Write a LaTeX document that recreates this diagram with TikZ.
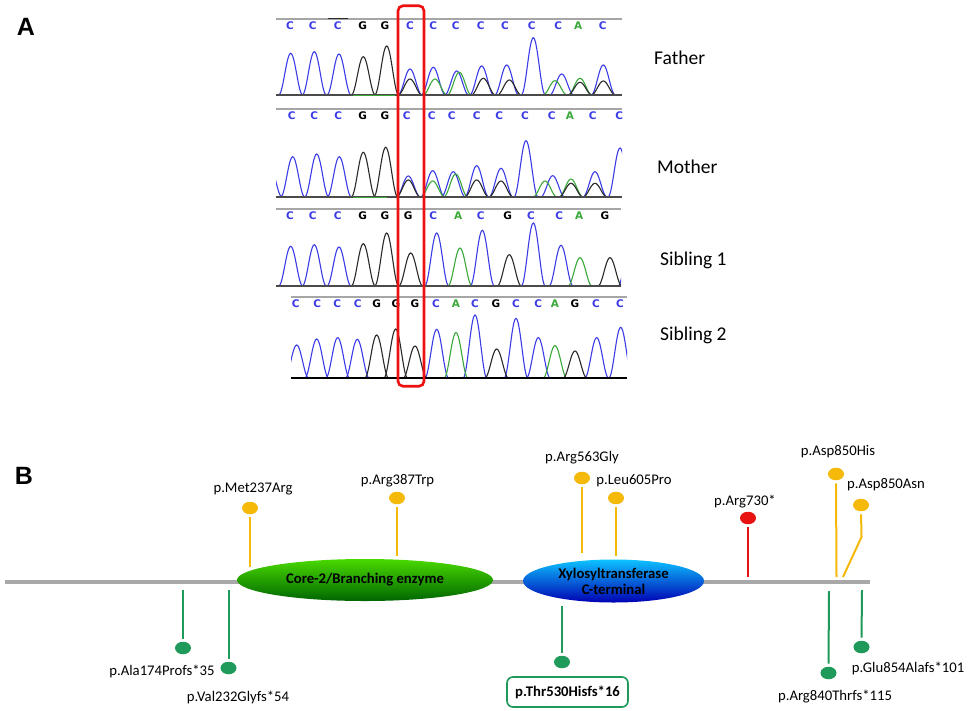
\documentclass[tikz,border=0pt]{standalone}
\usepackage{fontspec}
\setmainfont{Carlito}
\newfontfamily\arialb{Liberation Sans}
\newfontfamily\seqfont{DejaVu Sans}
\usetikzlibrary{shapes.geometric}
\definecolor{trblue}{HTML}{3C3CE6}
\definecolor{trblack}{HTML}{2A2A2A}
\definecolor{trgreen}{HTML}{3AA83A}
\definecolor{mutyel}{HTML}{F5B90A}
\definecolor{mutgrn}{HTML}{1F9A5A}
\definecolor{mutred}{HTML}{E81212}
\definecolor{bbgray}{HTML}{A8A8A8}
\definecolor{boxred}{HTML}{EE1111}
\newcommand\sqC{\textcolor{trblue}{C}}
\newcommand\sqG{\textcolor{black}{G}}
\newcommand\sqA{\textcolor{trgreen}{A}}
\newcommand\pk[4]{%
  \pgfmathsetmacro\pka{#2-12}\pgfmathsetmacro\pkb{#2+12}%
  \draw[color=#1, line width=1.1pt] plot[domain=\pka:\pkb, samples=25, smooth] (\x,{#4-#3*(0.5+0.5*cos(15*(\x-#2)))});}
\newcommand\seqrow[3]{%
  \foreach \lx/\lt [count=\i] in {#2} \node[seqlet] (#3\i) at (\lx,#1) {\csname sq\lt\endcsname};}
\begin{document}
\begin{tikzpicture}[x=1pt,y=-1pt,
  seqlet/.style={inner sep=0pt, font=\seqfont\bfseries\fontsize{10.5}{12}\selectfont},
  panel/.style={inner sep=0pt, font=\arialb\bfseries\fontsize{25}{28}\selectfont},
  rel/.style={inner sep=0pt, anchor=base west, font=\fontsize{19.5}{22}\selectfont},
  toplin/.style={draw=gray!70, line width=1.2pt},
  baselin/.style={draw=trblack!85, line width=1.5pt},
  dot/.style={ellipse, inner sep=0pt, minimum width=16pt, minimum height=12.5pt},
  ydot/.style={dot, fill=mutyel},
  gdot/.style={dot, fill=mutgrn},
  rdot/.style={dot, fill=mutred},
  yln/.style={draw=mutyel, line width=2pt, shorten <=3pt},
  gln/.style={draw=mutgrn, line width=2pt, shorten >=3pt},
  rln/.style={draw=mutred, line width=2.5pt, shorten <=3pt},
  mlab/.style={inner sep=0pt, font=\fontsize{14.7}{17}\selectfont},
  dom/.style={ellipse, inner sep=0pt, align=center, font=\bfseries\fontsize{14.7}{16}\selectfont}]
\useasboundingbox (0,0) rectangle (969,710);
\fill[white] (0,0) rectangle (969,710);
% ---------- Panel A ----------
\node[panel] (labA) at (26,27) {A};
% Track 1: Father
\begin{scope}
\clip (276,0) rectangle (622,100);
\foreach \c/\h in {290.7/41.7,314.3/43.3,339/41,410/26,433.3/27.7,456.7/24,481.7/29,506.7/30,533.3/57.3,561.7/21,603.3/30} \pk{trblue}{\c}{\h}{95};
\foreach \c/\h in {435/16,459.3/22.7,555/14.3,580/16.7} \pk{trgreen}{\c}{\h}{95};
\foreach \c/\h in {363.3/38.3,386.7/49,410/16,483.3/16.7,509.3/15,580/12.7,603.3/14} \pk{trblack}{\c}{\h}{95};
\end{scope}
\draw[toplin] (276,19) -- (622,19);
\draw[trblack, line width=1.2pt] (328,18.3) -- (348,18.3);
\draw[baselin] (276,95) -- (622,95);
\draw[trgreen, line width=1pt] (353,95) -- (395,95);
\seqrow{25.5}{290/C,312.7/C,337.7/C,362.7/G,385/G,410/C,433.3/C,455.7/C,480.7/C,505/C,531.7/C,558.3/C,578.3/A,602.7/C}{fa}
\node[rel] (father) at (654,64) {Father};
% Track 2: Mother
\begin{scope}
\clip (276,100) rectangle (622,200);
\foreach \c/\h in {270/30,292.7/40.3,316.7/43,339.3/40.3,408.3/21,432.7/26.3,453.3/25.3,476.7/31.3,501/28.7,526/56.3,552.7/21.3,595/25.3,620/49} \pk{trblue}{\c}{\h}{197};
\foreach \c/\h in {432.7/16,455.7/23,545/16,571/18} \pk{trgreen}{\c}{\h}{197};
\foreach \c/\h in {363.3/44.7,385.7/49.7,408.3/17,476.7/17,501/16,571/13.7,595/13.7} \pk{trblack}{\c}{\h}{197};
\seqrow{115.5}{291.7/C,314.3/C,338.3/C,362.7/G,385/G,406.7/C,431.7/C,451.7/C,476.7/C,499.3/C,525/C,551.7/C,570/A,592.7/C,619.3/C}{mo}
\end{scope}
\draw[toplin] (276,109) -- (622,109);
\draw[baselin] (276,197) -- (622,197);
\draw[trgreen, line width=1pt] (353,197) -- (387,197);
\node[rel] (mother) at (657,173) {Mother};
% Track 3: Sibling 1
\begin{scope}
\clip (276,200) rectangle (621,290);
\foreach \c/\h in {290.7/39.7,314.3/41.3,339/39,436.7/53,482.3/55.7,533.3/63,561/40.7,630/40} \pk{trblue}{\c}{\h}{286};
\foreach \c/\h in {460/38,580/28.3} \pk{trgreen}{\c}{\h}{286};
\foreach \c/\h in {363.3/42.3,386.7/53,410.7/33,509.3/31.3,610/28.3} \pk{trblack}{\c}{\h}{286};
\end{scope}
\draw[toplin] (276,209) -- (621,209);
\draw[baselin] (276,286) -- (621,286);
\seqrow{215.5}{290/C,312.7/C,337.7/C,362.7/G,385/G,408.3/G,433.3/C,458.3/A,480.7/C,507.7/G,531/C,559.3/C,579.3/A,605/G}{sa}
\node[rel] (sib1) at (660,265) {Sibling 1};
% Track 4: Sibling 2
\begin{scope}
\clip (291,290) rectangle (627,382);
\foreach \c/\h in {296.7/33.3,316.7/39.3,337.7/40.7,357.3/39,436.7/49,475/63.3,516/60,538.3/40.7,596.7/40.7,620.7/51} \pk{trblue}{\c}{\h}{378.3};
\foreach \c/\h in {456/45.7,555/32.7} \pk{trgreen}{\c}{\h}{378.3};
\foreach \c/\h in {376.7/43.3,395.7/49.3,415/32.3,496.7/29.3,575/27.3} \pk{trblack}{\c}{\h}{378.3};
\end{scope}
\draw[toplin] (291,297) -- (627,297);
\draw[black, line width=2pt] (291,378.3) -- (627,378.3);
\seqrow{304}{295.7/C,317.3/C,337.3/C,357.7/C,376.7/G,396/G,415/G,436/C,456/A,475/C,496/G,516/C,538.3/C,555/A,575/G,596/C,620/C}{sb}
\node[rel] (sib2) at (660,340.7) {Sibling 2};
% red box
\node[draw=boxred, line width=2.6pt, rounded corners=5pt, minimum width=26pt, minimum height=380.5pt, inner sep=0pt] (redbox) at (411,196) {};
% ---------- Panel B ----------
\node[panel] (labB) at (24,476) {B};
\draw[bbgray, line width=4pt] (5,582) -- (870,582);
\node[dom, minimum width=256pt, minimum height=42pt, top color=green!55!lime!85!black, middle color=green!60!black!90!lime, bottom color=green!40!black] (core) at (365,580) {Core-2/Branching enzyme};
\node[dom, minimum width=181pt, minimum height=43pt, top color=cyan!75!blue!95!white, middle color=blue!45!cyan!90!black, bottom color=blue!70!black] (xylt) at (613.5,581) {Xylosyltransferase\\C-terminal};
% upper mutations
\node[ydot] (m237) at (250,508) {};
\node[mlab] (l237) at (253,489) {p.Met237Arg};
\coordinate (e237) at (250,567);
\draw[yln] (m237.south) -- (e237);
\node[ydot] (m387) at (397,498) {};
\node[mlab] (l387) at (397.5,481) {p.Arg387Trp};
\coordinate (e387) at (397,556);
\draw[yln] (m387.south) -- (e387);
\node[ydot] (m563) at (582,478) {};
\node[mlab] (l563) at (582,458) {p.Arg563Gly};
\coordinate (e563) at (582,553);
\draw[yln] (m563.south) -- (e563);
\node[ydot] (m605) at (616,498) {};
\node[mlab] (l605) at (634,481) {p.Leu605Pro};
\coordinate (e605) at (616,556);
\draw[yln] (m605.south) -- (e605);
\node[rdot] (m730) at (748,518) {};
\node[mlab] (l730) at (745,502) {p.Arg730*};
\coordinate (e730) at (748,577);
\draw[rln] (m730.south) -- (e730);
\node[ydot] (m850h) at (836,474) {};
\node[mlab] (l850h) at (838,452) {p.Asp850His};
\coordinate (e850h) at (836.5,577);
\draw[yln] (m850h.south) -- (e850h);
\node[ydot] (m850n) at (861,505) {};
\node[mlab] (l850n) at (886,485) {p.Asp850Asn};
\coordinate (k850n) at (861.5,537);
\coordinate (e850n) at (843,577);
\draw[yln] (m850n.south) -- (k850n) -- (e850n);
% lower mutations
\node[gdot] (m174) at (183,648) {};
\node[mlab] (l174) at (162,671) {p.Ala174Profs*35};
\coordinate (s174) at (183,590);
\draw[gln] (s174) -- (m174.north);
\node[gdot] (m232) at (228.5,668) {};
\node[mlab] (l232) at (238,697) {p.Val232Glyfs*54};
\coordinate (s232) at (228.5,590);
\draw[gln] (s232) -- (m232.north);
\node[gdot] (m530) at (562,662) {};
\node[mlab, draw=mutgrn, line width=1.6pt, rounded corners=6pt, minimum width=121pt, minimum height=30pt, font=\bfseries\fontsize{14.7}{17}\selectfont] (l530) at (567.5,692) {p.Thr530Hisfs*16};
\coordinate (s530) at (562,606);
\draw[gln] (s530) -- (m530.north);
\node[gdot] (m840) at (828.5,673) {};
\node[mlab] (l840) at (835,697) {p.Arg840Thrfs*115};
\coordinate (s840) at (829,591);
\draw[gln] (s840) -- (m840.north);
\node[gdot] (m854) at (861.5,647) {};
\node[mlab] (l854) at (908,668) {p.Glu854Alafs*101};
\coordinate (s854) at (862,590);
\draw[gln] (s854) -- (m854.north);
\end{tikzpicture}
\end{document}
